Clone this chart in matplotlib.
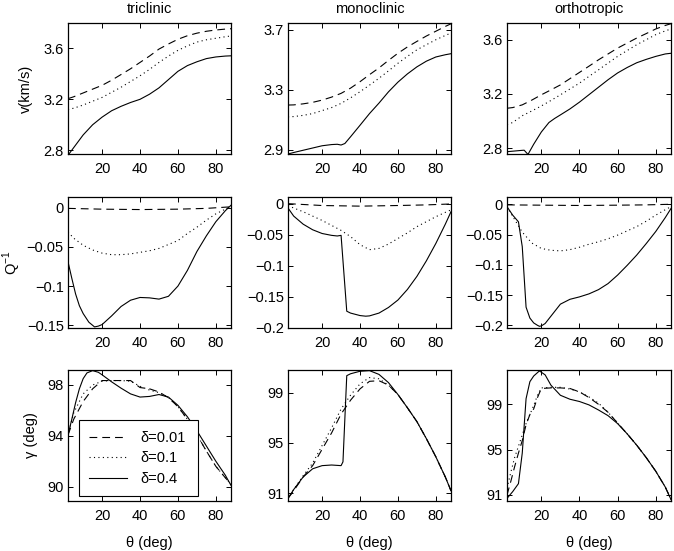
import matplotlib
matplotlib.use("Agg")
import matplotlib.pyplot as plt

plt.rcParams['font.family'] = ['Liberation Sans', 'DejaVu Sans']
plt.rcParams['font.size'] = 10.5
plt.rcParams['mathtext.fontset'] = 'custom'
plt.rcParams['mathtext.rm'] = 'Liberation Sans'

# ---------------- data ----------------
titles = ["triclinic", "monoclinic", "orthotropic"]
legend_labels = ["\u03b4=0.01", "\u03b4=0.1", "\u03b4=0.4"]
x_ticks = [20, 40, 60, 80]

xg = [2, 5, 10, 15, 20, 25, 30, 35, 40, 45, 50, 55, 60, 65, 70, 75, 80, 85, 88]

# --- velocity (km/s) ---
v_tri_dash = [3.205, 3.22, 3.25, 3.28, 3.31, 3.35, 3.395, 3.44, 3.49, 3.54, 3.595, 3.635, 3.672, 3.70, 3.72, 3.735, 3.745, 3.752, 3.755]
v_tri_dot = [3.12, 3.13, 3.155, 3.185, 3.215, 3.255, 3.295, 3.34, 3.385, 3.435, 3.49, 3.54, 3.585, 3.62, 3.65, 3.668, 3.68, 3.692, 3.698]
v_tri_sol = [2.76, 2.82, 2.92, 3.0, 3.06, 3.11, 3.145, 3.175, 3.2, 3.24, 3.29, 3.355, 3.42, 3.465, 3.495, 3.52, 3.533, 3.54, 3.542]

v_mon_dash = [3.197, 3.198, 3.205, 3.215, 3.23, 3.25, 3.275, 3.31, 3.353, 3.40, 3.445, 3.495, 3.543, 3.585, 3.622, 3.658, 3.69, 3.722, 3.74]
v_mon_dot = [3.118, 3.12, 3.128, 3.14, 3.16, 3.18, 3.208, 3.245, 3.286, 3.33, 3.376, 3.425, 3.476, 3.522, 3.566, 3.60, 3.633, 3.662, 3.678]
x_v_mon_sol = [2, 5, 10, 15, 20, 25, 28, 30, 32, 35, 40, 45, 50, 55, 60, 65, 70, 75, 80, 85, 88]
v_mon_sol = [2.87, 2.88, 2.895, 2.91, 2.925, 2.933, 2.935, 2.93, 2.94, 2.985, 3.062, 3.14, 3.21, 3.285, 3.35, 3.405, 3.452, 3.49, 3.518, 3.533, 3.54]

v_ort_dash = [3.095, 3.10, 3.12, 3.155, 3.194, 3.23, 3.267, 3.313, 3.359, 3.405, 3.452, 3.495, 3.538, 3.575, 3.612, 3.645, 3.679, 3.705, 3.718]
v_ort_dot = [2.975, 2.99, 3.04, 3.075, 3.112, 3.152, 3.194, 3.237, 3.28, 3.33, 3.378, 3.428, 3.477, 3.52, 3.563, 3.60, 3.637, 3.665, 3.679]
x_v_ort_sol = [2, 6, 10, 11, 13, 16, 20, 24, 27, 30, 35, 40, 45, 50, 55, 60, 65, 70, 75, 80, 85, 88]
v_ort_sol = [2.775, 2.78, 2.785, 2.786, 2.755, 2.83, 2.92, 2.99, 3.02, 3.046, 3.09, 3.14, 3.195, 3.25, 3.305, 3.355, 3.395, 3.43, 3.455, 3.477, 3.495, 3.50]

# --- attenuation Q^-1 ---
x_q_flat = [2, 20, 40, 60, 75, 88]
q_tri_dash = [-0.001, -0.002, -0.0025, -0.002, -0.001, 0.001]
q_tri_dot = [-0.031, -0.039, -0.048, -0.054, -0.058, -0.06, -0.06, -0.059, -0.057, -0.055, -0.052, -0.047, -0.042, -0.033, -0.025, -0.016, -0.008, -0.002, 0.001]
x_q_tri_sol = [2, 4, 6, 8, 10, 13, 16, 18, 20, 25, 30, 35, 40, 45, 50, 55, 60, 65, 70, 75, 80, 85, 88]
q_tri_sol = [-0.069, -0.09, -0.11, -0.125, -0.135, -0.146, -0.152, -0.151, -0.149, -0.138, -0.126, -0.118, -0.1145, -0.115, -0.1166, -0.113, -0.1, -0.08, -0.056, -0.036, -0.018, -0.004, 0.003]

q_mon_dash = [0.0, -0.003, -0.004, -0.003, -0.002, -0.0005]
q_mon_dot = [-0.003, -0.007, -0.013, -0.02, -0.027, -0.035, -0.043, -0.053, -0.066, -0.074, -0.072, -0.065, -0.056, -0.047, -0.037, -0.029, -0.021, -0.014, -0.01]
x_q_mon_sol = [2, 5, 10, 15, 20, 25, 28, 30, 33, 35, 40, 43, 45, 50, 55, 60, 65, 70, 75, 80, 85, 88]
q_mon_sol = [-0.007, -0.02, -0.033, -0.042, -0.048, -0.051, -0.052, -0.051, -0.173, -0.176, -0.18, -0.181, -0.1805, -0.176, -0.167, -0.155, -0.138, -0.117, -0.092, -0.064, -0.033, -0.013]

q_ort_dash = [-0.001, -0.0015, -0.002, -0.0015, -0.001, 0.0]
q_ort_dot = [-0.004, -0.02, -0.046, -0.064, -0.073, -0.076, -0.077, -0.075, -0.071, -0.066, -0.062, -0.057, -0.051, -0.044, -0.037, -0.028, -0.018, -0.009, -0.004]
x_q_ort_sol = [2, 5, 8, 10, 12, 14, 16, 18, 19, 20, 22, 25, 30, 35, 40, 45, 50, 55, 60, 65, 70, 75, 80, 85, 88]
q_ort_sol = [-0.004, -0.018, -0.029, -0.07, -0.17, -0.188, -0.196, -0.2, -0.2016, -0.201, -0.197, -0.185, -0.165, -0.157, -0.153, -0.148, -0.141, -0.131, -0.117, -0.101, -0.084, -0.065, -0.045, -0.022, -0.007]

# --- polarization angle gamma (deg) ---
g_tri_dash = [94.06, 95.3, 96.7, 97.7, 98.35, 98.35, 98.35, 98.35, 97.8, 97.7, 97.45, 97.0, 96.3, 95.3, 94.1, 92.8, 91.6, 90.7, 90.2]
g_tri_dot = [94.06, 95.8, 97.3, 98.0, 98.3, 98.35, 98.35, 98.3, 97.9, 97.6, 97.4, 97.0, 96.3, 95.3, 94.1, 92.8, 91.6, 90.7, 90.2]
x_g_tri_sol = [2, 4, 6, 8, 10, 12, 15, 18, 20, 25, 30, 35, 40, 45, 50, 55, 60, 65, 70, 75, 80, 85, 88]
g_tri_sol = [94.06, 95.3, 96.6, 97.7, 98.5, 98.95, 99.13, 99.0, 98.8, 98.25, 97.75, 97.3, 97.05, 97.1, 97.25, 97.05, 96.4, 95.5, 94.4, 93.2, 92.0, 90.9, 90.1]

g_mon_dash = [90.6, 91.2, 92.3, 93.2, 94.5, 95.8, 97.3, 98.4, 99.3, 99.9, 99.95, 99.6, 98.85, 97.8, 96.7, 95.35, 93.9, 92.3, 91.2]
g_mon_dot = [90.6, 91.3, 92.4, 93.4, 94.8, 96.2, 97.7, 98.8, 99.7, 100.2, 100.1, 99.6, 98.85, 97.8, 96.7, 95.35, 93.9, 92.3, 91.2]
x_g_mon_sol = [2, 5, 10, 15, 20, 25, 30, 31, 33, 35, 40, 45, 50, 55, 60, 65, 70, 75, 80, 85, 88]
g_mon_sol = [90.6, 91.3, 92.3, 92.95, 93.2, 93.25, 93.2, 93.5, 100.35, 100.5, 100.7, 100.75, 100.45, 99.8, 98.85, 97.8, 96.7, 95.35, 93.9, 92.3, 91.2]

x_g_ort = [2, 4, 6, 8, 10, 12, 14, 16, 18, 20, 25, 30, 35, 40, 45, 50, 55, 60, 65, 70, 75, 80, 85, 88]
g_ort_dash = [91.0, 92.2, 93.5, 94.7, 95.8, 97.2, 98.1, 98.6, 99.6, 100.4, 100.45, 100.45, 100.4, 100.1, 99.6, 99.0, 98.3, 97.35, 96.4, 95.4, 94.3, 93.1, 91.7, 90.6]
g_ort_dot = [91.6, 93.0, 94.3, 95.3, 96.3, 97.3, 98.1, 98.9, 99.8, 100.45, 100.5, 100.5, 100.35, 100.1, 99.65, 99.1, 98.3, 97.35, 96.4, 95.4, 94.3, 93.1, 91.7, 90.6]
x_g_ort_sol = [2, 5, 8, 10, 12, 14, 16, 19, 22, 25, 30, 35, 40, 45, 50, 55, 60, 65, 70, 75, 80, 85, 88]
g_ort_sol = [90.7, 91.3, 92.0, 94.7, 99.5, 101.0, 101.5, 101.95, 101.6, 100.7, 99.8, 99.45, 99.25, 98.95, 98.5, 98.0, 97.3, 96.4, 95.4, 94.3, 93.1, 91.7, 90.6]

# tick values / labels
v_ticks = [[2.8, 3.2, 3.6], [2.9, 3.3, 3.7], [2.8, 3.2, 3.6]]
v_ticklabels = [["2.8", "3.2", "3.6"], ["2.9", "3.3", "3.7"], ["2.8", "3.2", "3.6"]]
q_ticks = [[-0.15, -0.1, -0.05, 0], [-0.2, -0.15, -0.1, -0.05, 0], [-0.2, -0.15, -0.1, -0.05, 0]]
q_ticklabels = [["\u22120.15", "\u22120.1", "\u22120.05", "0"],
                ["\u22120.2", "\u22120.15", "\u22120.1", "\u22120.05", "0"],
                ["\u22120.2", "\u22120.15", "\u22120.1", "\u22120.05", "0"]]
g_ticks = [[90, 94, 98], [91, 95, 99], [91, 95, 99]]
g_ticklabels = [["90", "94", "98"], ["91", "95", "99"], ["91", "95", "99"]]

v_lims = [(2.77, 3.80), (2.87, 3.745), (2.758, 3.723)]
q_lims = [(-0.1534, 0.0135), (-0.2, 0.0107), (-0.2044, 0.012)]
g_lims = [(88.87, 99.18), (90.39, 100.8), (90.47, 102.03)]

# ---------------- plotting ----------------
FS = 10.5
fig = plt.figure(figsize=(6.74, 5.51), dpi=100)
W, H = 674.0, 551.0
col_left = [68, 288, 507]
col_w = [163, 163, 164]
row_top = [23, 197, 370]
row_h = 131

lw = 0.8
DASH = (0, (7, 4.5))
DOT = (0, (1, 3))

rows = [
    [(xg, v_tri_dash, xg, v_tri_dot, xg, v_tri_sol),
     (xg, v_mon_dash, xg, v_mon_dot, x_v_mon_sol, v_mon_sol),
     (xg, v_ort_dash, xg, v_ort_dot, x_v_ort_sol, v_ort_sol)],
    [(x_q_flat, q_tri_dash, xg, q_tri_dot, x_q_tri_sol, q_tri_sol),
     (x_q_flat, q_mon_dash, xg, q_mon_dot, x_q_mon_sol, q_mon_sol),
     (x_q_flat, q_ort_dash, xg, q_ort_dot, x_q_ort_sol, q_ort_sol)],
    [(xg, g_tri_dash, xg, g_tri_dot, x_g_tri_sol, g_tri_sol),
     (xg, g_mon_dash, xg, g_mon_dot, x_g_mon_sol, g_mon_sol),
     (x_g_ort, g_ort_dash, x_g_ort, g_ort_dot, x_g_ort_sol, g_ort_sol)],
]
ticks_all = [v_ticks, q_ticks, g_ticks]
tlabels_all = [v_ticklabels, q_ticklabels, g_ticklabels]
lims_all = [v_lims, q_lims, g_lims]

for r in range(3):
    for c in range(3):
        ax = fig.add_axes([col_left[c] / W, 1 - (row_top[r] + row_h) / H,
                           col_w[c] / W, row_h / H])
        xd, yd, xo, yo, xs, ys = rows[r][c]
        h1, = ax.plot(xd, yd, color='black', lw=lw, linestyle=DASH)
        h2, = ax.plot(xo, yo, color='black', lw=lw, linestyle=DOT)
        h3, = ax.plot(xs, ys, color='black', lw=lw, linestyle='-')
        ax.set_xlim(2, 88)
        ax.set_ylim(*lims_all[r][c])
        ax.set_xticks(x_ticks)
        ax.set_xticklabels([str(t) for t in x_ticks])
        ax.set_yticks(ticks_all[r][c])
        ax.set_yticklabels(tlabels_all[r][c])
        ax.tick_params(direction='in', top=True, right=True, length=3.5,
                       width=0.7, labelsize=FS)
        ax.tick_params(axis='y', pad=3)
        ax.tick_params(axis='x', pad=6)
        for s in ax.spines.values():
            s.set_linewidth(0.9)
        if r == 0:
            ax.set_title(titles[c], fontsize=FS, pad=7)
        if r == 2:
            ax.set_xlabel("\u03b8 (deg)", fontsize=FS)
            ax.xaxis.set_label_coords(0.5, -0.265)
            ax.xaxis.label.set_va('top')
        if c == 0:
            if r == 0:
                ax.set_ylabel("v(km/s)", fontsize=FS)
                ax.yaxis.set_label_coords(-0.215, 0.5)
            elif r == 1:
                ax.set_ylabel("Q$^{-1}$", fontsize=FS)
                ax.yaxis.set_label_coords(-0.275, 0.5)
            else:
                ax.set_ylabel("\u03b3 (deg)", fontsize=FS)
                ax.yaxis.set_label_coords(-0.184, 0.5)
                leg = ax.legend([h1, h2, h3], legend_labels, loc='lower left',
                                bbox_to_anchor=(0.068, 0.038, 0.727, 0.63),
                                mode='expand', fontsize=FS, handlelength=2.6,
                                handletextpad=0.9, labelspacing=0.45,
                                borderpad=0.7, fancybox=False, framealpha=1,
                                edgecolor='black', borderaxespad=0)
                leg.get_frame().set_linewidth(0.8)

fig.savefig("out.png", dpi=100)
